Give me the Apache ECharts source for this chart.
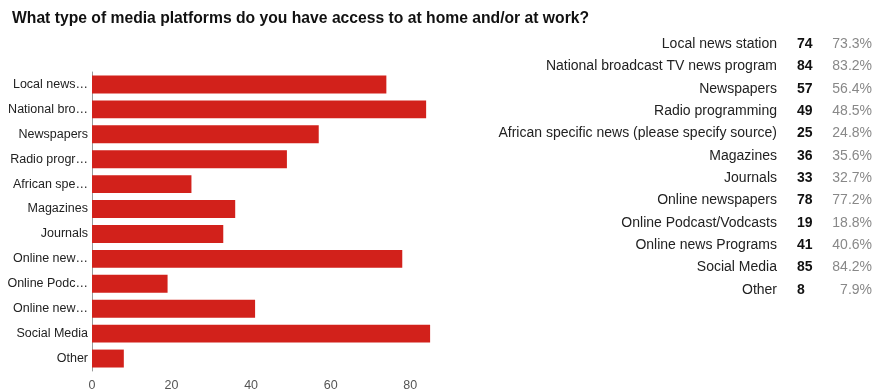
<!DOCTYPE html>
<html>
<head>
<meta charset="utf-8">
<script src="https://cdn.jsdelivr.net/npm/echarts@6/dist/echarts.min.js"></script>
<style>
  html, body { margin: 0; padding: 0; background: #fff; }
  #chart { width: 876px; height: 392px; }
</style>
</head>
<body>
<div id="chart"></div>
<script>
// Survey answers: full option names, shortened axis labels, counts and shares
const categories = [
  'Local news station',
  'National broadcast TV news program',
  'Newspapers',
  'Radio programming',
  'African specific news (please specify source)',
  'Magazines',
  'Journals',
  'Online newspapers',
  'Online Podcast/Vodcasts',
  'Online news Programs',
  'Social Media',
  'Other'
];
const shortLabels = [
  'Local news…', 'National bro…', 'Newspapers', 'Radio progr…', 'African spe…',
  'Magazines', 'Journals', 'Online new…', 'Online Podc…', 'Online new…',
  'Social Media', 'Other'
];
const counts = [74, 84, 57, 49, 25, 36, 33, 78, 19, 41, 85, 8];
const percents = ['73.3%', '83.2%', '56.4%', '48.5%', '24.8%', '35.6%', '32.7%', '77.2%', '18.8%', '40.6%', '84.2%', '7.9%'];
const xTicks = [0, 20, 40, 60, 80];

const FONT = '"Liberation Sans", Arial, sans-serif';
const chart = echarts.init(document.getElementById('chart'));

// Summary table on the right: three category axes sharing one thin grid
const tableAxis = (position, inside, margin, labels, style) => ({
  gridIndex: 1,
  type: 'category',
  inverse: true,
  position: position,
  data: categories,
  axisLine: { show: false },
  axisTick: { show: false },
  axisLabel: Object.assign({
    inside: inside,
    margin: margin,
    fontFamily: FONT,
    formatter: (v, i) => String(labels[i])
  }, style)
});

chart.setOption({
  animation: false,
  backgroundColor: '#ffffff',
  title: {
    text: 'What type of media platforms do you have access to at home and/or at work?',
    left: 7,
    top: 6,
    textStyle: { fontFamily: FONT, fontSize: 15.7, fontWeight: 'bold', color: '#111' }
  },
  grid: [
    { left: 92, top: 72, width: 358, height: 300 },
    { left: 777, top: 33, width: 95, height: 268 }
  ],
  xAxis: [
    {
      gridIndex: 0,
      type: 'value',
      min: 0,
      max: 90,
      interval: 20,
      splitLine: { show: false },
      axisLine: { show: false },
      axisTick: { show: false },
      axisLabel: {
        showMaxLabel: false,
        margin: 8,
        fontFamily: FONT,
        fontSize: 12.5,
        color: '#555',
        formatter: v => (xTicks.indexOf(v) >= 0 ? String(v) : '')
      }
    },
    { gridIndex: 1, type: 'value', show: false, min: 0, max: 1 }
  ],
  yAxis: [
    {
      gridIndex: 0,
      type: 'category',
      inverse: true,
      data: categories,
      axisLine: { show: true, lineStyle: { color: '#999', width: 1 } },
      axisTick: { show: false },
      axisLabel: {
        margin: 4,
        fontFamily: FONT,
        fontSize: 12.5,
        color: '#222',
        formatter: (v, i) => shortLabels[i]
      }
    },
    tableAxis('left', false, 0, categories, { fontSize: 14, color: '#222' }),
    tableAxis('left', true, 20, counts, { fontSize: 14, fontWeight: 'bold', color: '#111' }),
    tableAxis('right', true, 0, percents, { fontSize: 14, color: '#888' })
  ],
  series: [
    {
      type: 'bar',
      xAxisIndex: 0,
      yAxisIndex: 0,
      data: counts,
      barCategoryGap: '28%',
      itemStyle: { color: '#d2211b' }
    }
  ]
});
</script>
</body>
</html>
